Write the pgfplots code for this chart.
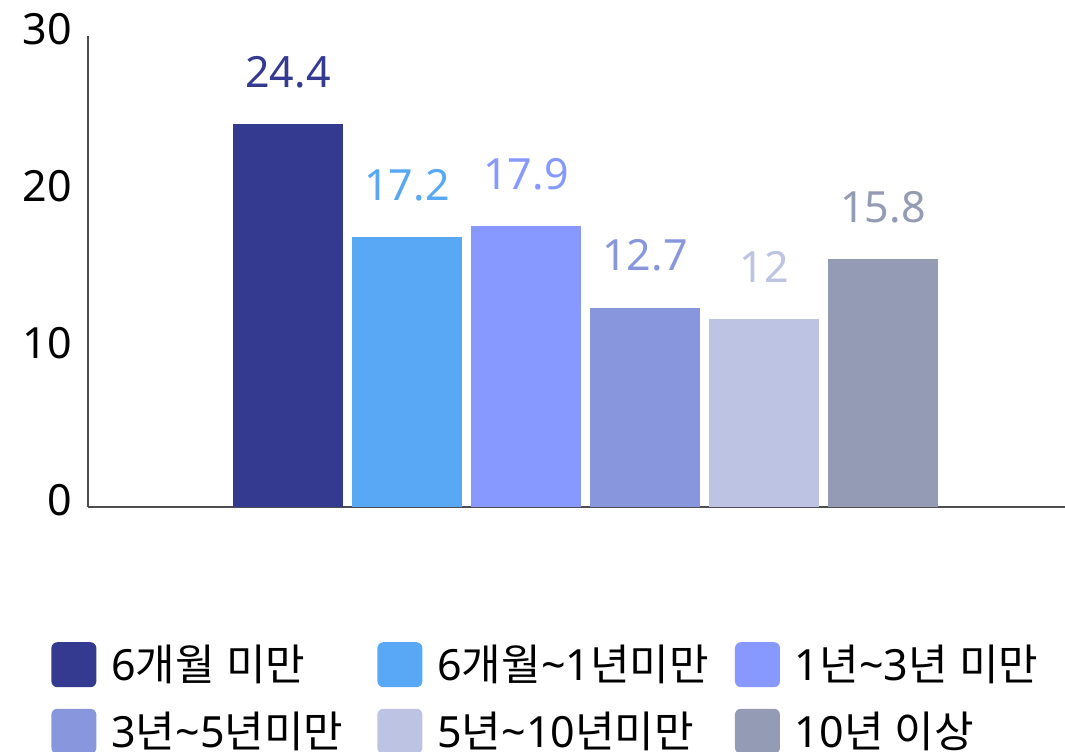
\documentclass[border=0pt]{standalone}
\usepackage{pgfplots}
\pgfplotsset{compat=1.18}
\usepackage{fontspec}
\setmainfont{Noto Sans}
\newfontfamily\kr{Noto Sans CJK KR}
\definecolor{c1}{HTML}{333A8F}
\definecolor{c2}{HTML}{58A8F5}
\definecolor{c3}{HTML}{8798FF}
\definecolor{c4}{HTML}{8796DD}
\definecolor{c5}{HTML}{BCC3E3}
\definecolor{c6}{HTML}{949BB5}
\definecolor{axc}{HTML}{4D4D52}
\begin{document}
\begin{tikzpicture}
\useasboundingbox (-44pt,-122pt) rectangle (488.5pt,253.5pt);
\clip (-44pt,-122pt) rectangle (488.5pt,253.5pt);
\begin{axis}[
  scale only axis, width=488.5pt, height=235.5pt,
  xmin=0, xmax=488.5, ymin=0, ymax=30,
  axis x line=bottom, axis y line=left,
  axis line style={axc, line width=1pt, -},
  xtick=\empty, ytick={0,10,20,30}, yticklabels={0,10,20,30},
  major tick length=0pt,
  yticklabel style={font=\fontsize{21.5}{26}\selectfont, text=black, inner sep=0pt, xshift=-8pt, yshift=3.5pt},
  ybar, bar width=55pt, bar shift=0pt,
  nodes near coords,
  every node near coord/.append style={font=\fontsize{21.5}{26}\selectfont, anchor=center, yshift=26pt},
  /pgf/number format/assume math mode=true,
  legend columns=3,
  legend cell align=left,
  legend style={draw=none, fill=none, at={(-0.0379,-0.2845)}, anchor=north west,
    font=\fontsize{21.5}{26}\selectfont, inner sep=0pt,
    /tikz/every odd column/.style={column sep=5.5pt},
    /tikz/column 2/.style={column sep=15pt},
    /tikz/column 4/.style={column sep=11pt},
    row sep=10pt},
  legend image code/.code={\fill[#1, rounded corners=3pt] (0pt,-11.25pt) rectangle (22.5pt,11.25pt);},
  clip=false,
]
\addplot[fill=c1, draw=none, every node near coord/.append style={text=c1}] coordinates {(100,24.4)};
\addlegendentry{6{\kr 개월} {\kr 미만}}
\addplot[fill=c2, draw=none, every node near coord/.append style={text=c2}] coordinates {(159.5,17.2)};
\addlegendentry{6{\kr 개월}\textasciitilde1{\kr 년미만}}
\addplot[fill=c3, draw=none, every node near coord/.append style={text=c3}] coordinates {(219,17.9)};
\addlegendentry{1{\kr 년}\textasciitilde3{\kr 년} {\kr 미만}}
\addplot[fill=c4, draw=none, every node near coord/.append style={text=c4}] coordinates {(278.5,12.7)};
\addlegendentry{3{\kr 년}\textasciitilde5{\kr 년미만}}
\addplot[fill=c5, draw=none, every node near coord/.append style={text=c5}] coordinates {(338,12)};
\addlegendentry{5{\kr 년}\textasciitilde10{\kr 년미만}}
\addplot[fill=c6, draw=none, every node near coord/.append style={text=c6}] coordinates {(397.5,15.8)};
\addlegendentry{10{\kr 년} {\kr 이상}}
\end{axis}
\end{tikzpicture}
\end{document}
